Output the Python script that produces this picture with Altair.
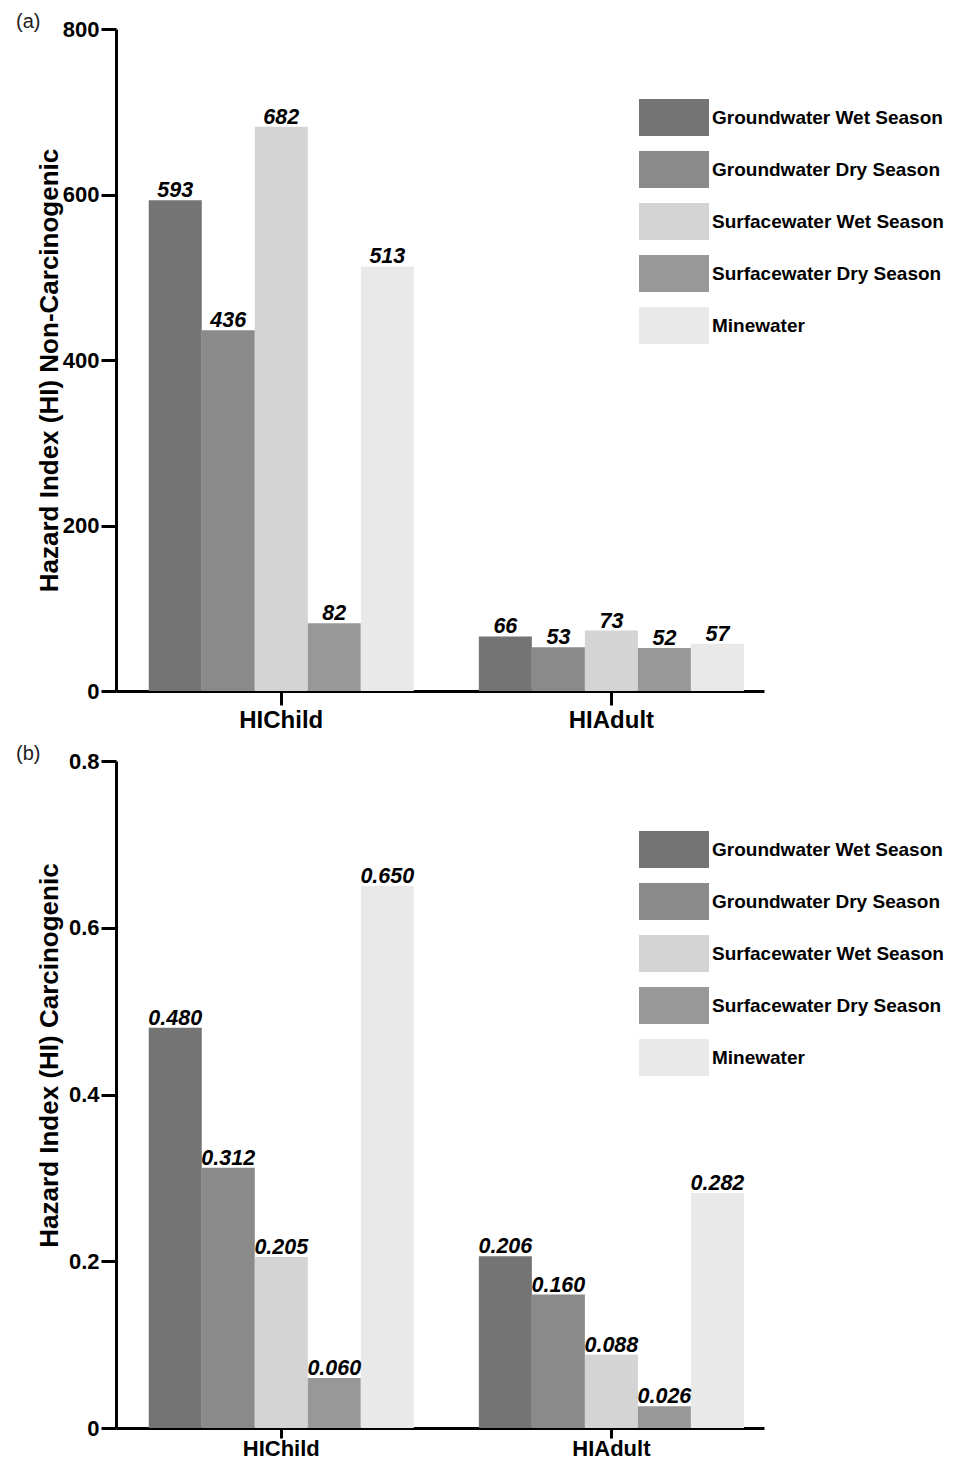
import altair as alt
import pandas as pd

categories = ["HIChild", "HIAdult"]
series = [
    "Groundwater Wet Season",
    "Groundwater Dry Season",
    "Surfacewater Wet Season",
    "Surfacewater Dry Season",
    "Minewater",
]
hi_non_carc_child = [593, 436, 682, 82, 513]
hi_non_carc_adult = [66, 53, 73, 52, 57]
hi_carc_child = [0.480, 0.312, 0.205, 0.060, 0.650]
hi_carc_adult = [0.206, 0.160, 0.088, 0.026, 0.282]
y_ticks_a = [0, 200, 400, 600, 800]
y_ticks_b = [0, 0.2, 0.4, 0.6, 0.8]
shade = ["#747474", "#8a8a8a", "#d4d4d4", "#989898", "#e9e9e9"]

FONT = "Liberation Sans"
SWATCH = "M-1.892,-1H1.892V1H-1.892Z"


def table(child, adult):
    rows = []
    for cat, vals in zip(categories, [child, adult]):
        for s, v in zip(series, vals):
            rows.append({"category": cat, "series": s, "value": v})
    return pd.DataFrame(rows)


def panel(df, letter, ytitle, ymax, yticks, fmt, height, label_expr, title_y,
          x_tick, x_pad, x_font):
    base = alt.Chart(df)
    x = alt.X(
        "category:N",
        sort=categories,
        title=None,
        scale=alt.Scale(paddingInner=0.197, paddingOuter=0.08, align=0.62),
        axis=alt.Axis(
            domainWidth=3, domainColor="black", tickWidth=3, tickSize=x_tick,
            tickColor="black", labelFontSize=x_font, labelFontWeight="bold",
            labelColor="black", labelPadding=x_pad, labelAngle=0,
        ),
    )
    xo = alt.XOffset("series:N", sort=series,
                     scale=alt.Scale(paddingInner=0, paddingOuter=0))
    y = alt.Y(
        "value:Q",
        scale=alt.Scale(domain=[0, ymax], nice=False, zero=True),
        axis=alt.Axis(
            values=yticks, grid=False, domainWidth=3, domainColor="black",
            tickWidth=3, tickSize=15, tickColor="black", labelFontSize=22,
            labelFontWeight="bold", labelColor="black", labelPadding=2,
            labelExpr=label_expr, title=ytitle, titleFontSize=26,
            titleFontWeight="bold", titleColor="black",
            titleAngle=270, titleBaseline="alphabetic", titleAlign="center",
            titleX=-59, titleY=title_y,
        ),
    )
    color = alt.Color(
        "series:N",
        sort=series,
        scale=alt.Scale(domain=series, range=shade),
        legend=alt.Legend(
            orient="none", legendX=523, legendY=70, title=None,
            symbolType=SWATCH, symbolSize=1369, symbolStrokeWidth=0,
            symbolOffset=16.5, symbolOpacity=1, labelFontSize=19,
            labelFontWeight="bold", labelFont=FONT, labelColor="black",
            labelOffset=19.5, labelLimit=400, rowPadding=15,
        ),
    )
    bars = base.mark_bar(opacity=1).encode(x=x, xOffset=xo, y=y, color=color)
    labels = base.mark_text(
        font=FONT, fontSize=21.5, fontWeight="bold", fontStyle="italic",
        color="black", baseline="alphabetic", dy=-3,
    ).encode(
        x=alt.X("category:N", sort=categories),
        xOffset=xo,
        y="value:Q",
        text=alt.Text("value:Q", format=fmt),
    )
    return alt.layer(bars, labels).properties(
        width=648,
        height=height,
        title=alt.TitleParams(
            letter, anchor="start", frame="bounds", fontSize=20,
            fontWeight="normal", color="#222", font=FONT, dx=-20,
            offset=-14,
        ),
    )


chart_a = panel(
    table(hi_non_carc_child, hi_non_carc_adult), "(a)",
    "Hazard Index (HI) Non-Carcinogenic", 800, y_ticks_a, "d", 662,
    "format(datum.value, 'd')", 341, 14, 3, 24,
)
chart_b = panel(
    table(hi_carc_child, hi_carc_adult), "(b)",
    "Hazard Index (HI) Carcinogenic", 0.8, y_ticks_b, ".3f", 667,
    "datum.value == 0 ? '0' : format(datum.value, '.1f')", 294, 10, 0, 22,
)

chart = (
    alt.vconcat(chart_a, chart_b, spacing=12)
    .resolve_legend(color="independent")
    .resolve_scale(color="independent")
    .properties(background="white", padding={"left": 7, "top": 4, "right": 0, "bottom": 0})
    .configure_view(stroke=None)
    .configure_axis(labelFont=FONT, titleFont=FONT)
)

chart.save("out.html", embed_options={"renderer": "svg", "actions": False})
